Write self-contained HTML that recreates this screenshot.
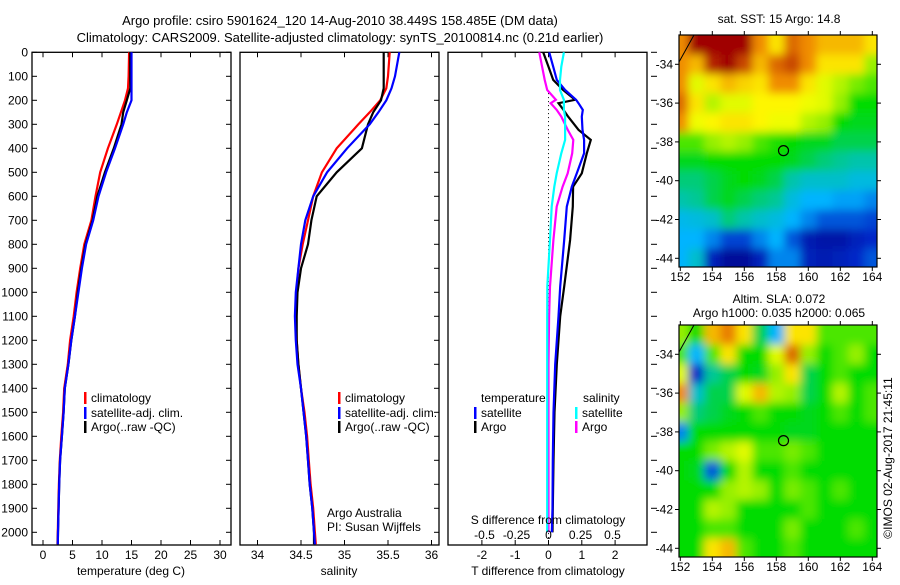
<!DOCTYPE html>
<html><head><meta charset="utf-8"><style>
body{margin:0;background:#fff;}
svg text{font-family:"Liberation Sans",sans-serif;font-size:12px;fill:#000;}
</style></head><body>
<svg id="fig" width="900" height="580" viewBox="0 0 900 580">
<defs>
<filter id="blur" x="0" y="0" width="1" height="1"><feGaussianBlur stdDeviation="4.5"/></filter>
<clipPath id="c1"><rect x="679" y="35" width="198" height="232"/></clipPath>
<clipPath id="c2"><rect x="679" y="325" width="198" height="232"/></clipPath>
</defs>
<text x="340" y="25" text-anchor="middle" style="font-size:13px">Argo profile: csiro 5901624_120 14-Aug-2010 38.449S 158.485E (DM data)</text>
<text x="340" y="42" text-anchor="middle" style="font-size:13px">Climatology: CARS2009. Satellite-adjusted climatology: synTS_20100814.nc (0.21d earlier)</text>
<g id="plots"></g>
</svg>
<script>
const depthTicks=[0,100,200,300,400,500,600,700,800,900,1000,1100,1200,1300,1400,1500,1600,1700,1800,1900,2000];
const tempTicks=[0,5,10,15,20,25,30];
const salTicks=[34,34.5,35,35.5,36];
const salTickLabels=["34","34.5","35","35.5","36"];
const tdiffTicks=[-2,-1,0,1,2];
const sdiffTicks=[-0.5,-0.25,0,0.25,0.5];
const sdiffTickLabels=["-0.5","-0.25","0","0.25","0.5"];
const latTicks=[-34,-36,-38,-40,-42,-44];
const lonTicks=[152,154,156,158,160,162,164];

const profDepths=[0,100,150,200,250,300,400,500,600,700,800,900,1000,1100,1200,1300,1400,1500,1600,1700,1800,1900,2000,2050];
const tempClim=[14.6,14.5,14.4,13.9,13.2,12.5,11.0,9.7,8.9,8.2,7.0,6.3,5.7,5.2,4.6,4.2,3.6,3.4,3.1,2.85,2.7,2.6,2.5,2.45];
const tempSat=[15.0,15.0,15.0,15.0,14.2,13.6,12.2,10.7,9.4,8.5,7.3,6.6,6.0,5.4,4.8,4.3,3.7,3.5,3.2,2.9,2.75,2.65,2.55,2.5];
const tempArgo=[14.8,14.8,14.8,14.2,13.6,13.3,12.0,10.5,9.2,8.4,7.2,6.5,5.9,5.4,4.8,4.3,3.7,3.5,3.2,2.9,2.75,2.65,2.55,2.5];
const salClim=[35.52,35.50,35.48,35.41,35.29,35.16,34.91,34.74,34.64,34.58,34.52,34.47,34.45,34.44,34.45,34.47,34.50,34.54,34.57,34.59,34.61,34.64,34.66,34.67];
const salSat=[35.63,35.58,35.54,35.48,35.39,35.29,35.03,34.80,34.64,34.55,34.50,34.47,34.44,34.43,34.44,34.46,34.50,34.53,34.56,34.58,34.60,34.63,34.65,34.66];
const salArgo=[35.45,35.45,35.45,35.42,35.33,35.27,35.20,34.91,34.68,34.62,34.58,34.50,34.46,34.45,34.45,34.47,34.50,34.53,34.56,34.58,34.60,34.63,34.65,34.65];

const diffDepths=[0,60,115,157,198,212,240,268,323,365,421,504,560,643,782,976,1100,1300,1500,1700,1900,2000];
const dTSat=[0.02,0.14,0.25,0.5,0.83,0.9,1.03,1.0,1.02,1.07,1.07,0.85,0.7,0.55,0.47,0.35,0.3,0.2,0.15,0.13,0.12,0.1];
const dTArgo=[-0.16,0,0.14,0.44,0.8,0.3,0.45,0.59,0.9,1.27,1.15,1.0,0.74,0.73,0.65,0.47,0.35,0.25,0.18,0.15,0.13,0.12];
const dSSat=[0.12,0.1,0.09,0.09,0.12,0.12,0.12,0.13,0.13,0.13,0.1,0.064,0.045,0.025,0.012,-0.009,-0.01,-0.01,-0.01,-0.01,-0.01,-0.01];
const dSArgo=[-0.072,-0.05,-0.03,-0.01,0.058,0.017,0.064,0.1,0.15,0.194,0.185,0.15,0.11,0.064,0.038,0.012,0.005,0,0,0,0,0];

const mapLons=[152,153,154,155,156,157,158,159,160,161,162,163,164];
const mapLats=[-33,-34,-35,-36,-37,-38,-39,-40,-41,-42,-43,-44];
const sstGrid=[
[0.8,1,1,1,1,0.8,0.7,0.85,0.8,0.75,0.75,0.75,0.7],
[0.8,0.75,0.95,1,0.9,0.75,0.85,0.9,0.8,0.7,0.7,0.7,0.6],
[0.8,0.65,0.7,0.75,0.72,0.7,0.8,0.8,0.7,0.65,0.62,0.58,0.55],
[0.85,0.7,0.62,0.65,0.65,0.68,0.68,0.68,0.66,0.65,0.6,0.5,0.5],
[0.8,0.66,0.68,0.7,0.7,0.68,0.66,0.66,0.62,0.6,0.5,0.48,0.48],
[0.55,0.55,0.6,0.62,0.6,0.55,0.52,0.5,0.48,0.48,0.45,0.45,0.45],
[0.48,0.48,0.5,0.5,0.5,0.5,0.5,0.48,0.45,0.42,0.4,0.38,0.38],
[0.42,0.42,0.45,0.48,0.5,0.48,0.45,0.38,0.35,0.35,0.35,0.33,0.33],
[0.38,0.4,0.45,0.48,0.45,0.42,0.4,0.33,0.3,0.3,0.28,0.28,0.25],
[0.32,0.33,0.35,0.42,0.38,0.35,0.33,0.3,0.25,0.2,0.2,0.2,0.18],
[0.3,0.3,0.25,0.18,0.18,0.25,0.3,0.2,0.1,0.08,0.08,0.12,0.15],
[0.3,0.35,0.12,0.05,0.05,0.12,0.25,0.25,0.12,0.1,0.12,0.15,0.2]];
const slaGrid=[
[0.6,0.5,0.75,0.82,0.7,0.45,0.3,0.7,0.7,0.55,0.55,0.55,0.55],
[0.55,0.3,0.55,0.7,0.5,0.5,0.65,0.85,0.6,0.5,0.55,0.6,0.5],
[0.65,0.15,0.4,0.45,0.5,0.48,0.6,0.7,0.45,0.5,0.55,0.5,0.5],
[0.8,0.35,0.45,0.45,0.65,0.75,0.62,0.6,0.45,0.5,0.62,0.5,0.55],
[0.6,0.42,0.45,0.48,0.5,0.55,0.5,0.5,0.48,0.5,0.55,0.5,0.55],
[0.25,0.5,0.5,0.5,0.5,0.5,0.5,0.48,0.48,0.5,0.5,0.5,0.5],
[0.5,0.5,0.58,0.62,0.65,0.55,0.55,0.58,0.55,0.5,0.5,0.5,0.5],
[0.5,0.48,0.2,0.5,0.62,0.5,0.5,0.55,0.5,0.5,0.5,0.5,0.5],
[0.5,0.5,0.5,0.6,0.62,0.6,0.5,0.58,0.55,0.5,0.55,0.5,0.5],
[0.5,0.5,0.62,0.6,0.5,0.5,0.5,0.5,0.55,0.5,0.5,0.5,0.5],
[0.5,0.5,0.55,0.55,0.5,0.5,0.5,0.58,0.5,0.5,0.5,0.55,0.5],
[0.5,0.5,0.7,0.75,0.55,0.5,0.5,0.55,0.5,0.5,0.5,0.5,0.5]];
const argoLon=158.45, argoLat=-38.45;

const NS='http://www.w3.org/2000/svg';
const root=document.getElementById('plots');
function el(tag,attrs,parent){const e=document.createElementNS(NS,tag);for(const k in attrs)e.setAttribute(k,attrs[k]);(parent||root).appendChild(e);return e;}
function txt(x,y,s,anchor,parent){const t=el('text',{x:x,y:y,'text-anchor':anchor||'start'},parent);t.textContent=s;return t;}

const PT=52.3, PB=545;
function yD(d){return PT+d*0.24;}
function lin(d0,d1,r0,r1){return v=>r0+(v-d0)/(d1-d0)*(r1-r0);}

const panels=[
 {name:'temperature-panel',x0:32,x1:231,sx:lin(0,30,43,220)},
 {name:'salinity-panel',x0:240,x1:439,sx:lin(34,36,257.5,431.5)},
 {name:'difference-panel',x0:448,x1:647,sx:lin(0,2,548.5,615.1)}
];
panels.forEach((p,i)=>{
 const g=el('g',{});
 
 
 p.g=g;
 const fr=el('rect',{x:p.x0,y:PT,width:p.x1-p.x0,height:PB-PT,fill:'none',stroke:'#000','stroke-width':1.3},g);
 
 
 depthTicks.forEach(d=>{
  const y=yD(d);
  if(i===0) el('line',{x1:p.x0,x2:p.x0+5,y1:y,y2:y,stroke:'#000'},g);
  if(i<2) el('line',{x1:p.x1-5,x2:p.x1,y1:y,y2:y,stroke:'#000'},g);
  else el('line',{x1:p.x1+4,x2:p.x1+10,y1:y,y2:y,stroke:'#000'},g);
 });
});
depthTicks.forEach(d=>{const t=txt(28,yD(d)+4,String(d),'end');
 
 });
function xticks(p,ticks,sx,labels){
 ticks.forEach((v,k)=>{const x=sx(v);
  el('line',{x1:x,x2:x,y1:PT,y2:PT+5,stroke:'#000'},p.g);
  el('line',{x1:x,x2:x,y1:PB-5,y2:PB,stroke:'#000'},p.g);
  const t=txt(x,559,labels?labels[k]:String(v),'middle',p.g);
  
  
 });
}
xticks(panels[0],tempTicks,panels[0].sx);
xticks(panels[1],salTicks,panels[1].sx,salTickLabels);
xticks(panels[2],tdiffTicks,panels[2].sx);
const xl=[['temperature (deg C)',131,'x-axis-title-temperature'],['salinity',339,'x-axis-title-salinity'],['T difference from climatology',548,'x-axis-title-tdiff']];
xl.forEach(a=>{const t=txt(a[1],575,a[0],'middle');
 
 });

function line(g,depths,vals,sx,color,name,w){
 const pts=depths.map((d,k)=>sx(vals[k]).toFixed(1)+','+yD(d).toFixed(1)).join(' ');
 const pl=el('polyline',{points:pts,fill:'none',stroke:color,'stroke-width':w||2.2,'stroke-linejoin':'miter'},g);
 
 
}
const P0=panels[0],P1=panels[1],P2=panels[2];
line(P0.g,profDepths,tempClim,P0.sx,'#f00','temp-climatology-line');
line(P0.g,profDepths,tempArgo,P0.sx,'#000','temp-argo-line');
line(P0.g,profDepths,tempSat,P0.sx,'#00f','temp-satellite-line');
line(P1.g,profDepths,salClim,P1.sx,'#f00','sal-climatology-line');
line(P1.g,profDepths,salArgo,P1.sx,'#000','sal-argo-line');
line(P1.g,profDepths,salSat,P1.sx,'#00f','sal-satellite-line');
const sxS=lin(0,0.5,548.5,612.5);
const dz=el('line',{x1:P2.sx(0),x2:P2.sx(0),y1:yD(170),y2:PB,stroke:'#000','stroke-dasharray':'1,3'},P2.g);


line(P2.g,diffDepths,dTArgo,P2.sx,'#000','tdiff-argo-line');
line(P2.g,diffDepths,dTSat,P2.sx,'#00f','tdiff-satellite-line');
line(P2.g,diffDepths,dSArgo,sxS,'#f0f','sdiff-argo-line');
line(P2.g,diffDepths,dSSat,sxS,'#0ff','sdiff-satellite-line');
sdiffTicks.forEach((v,k)=>{const t=txt(sxS(v),539,sdiffTickLabels[k],'middle',P2.g);
 
 });
{const t=txt(548,524,'S difference from climatology','middle',P2.g);
 
 }

function legend(g,x,y,color,label){
 const m=el('rect',{x:x,y:y-10,width:2.5,height:12,fill:color},g);
 
 
 const t=txt(x+7,y,label,'start',g);
 
 
}
[[P0.g,84],[P1.g,338]].forEach(a=>{
 legend(a[0],a[1],402,'#f00','climatology');
 legend(a[0],a[1],417,'#00f','satellite-adj. clim.');
 legend(a[0],a[1],431,'#000','Argo(..raw -QC)');
});
{const t=txt(481,402,'temperature','start',P2.g);
 const t2=txt(583,402,'salinity','start',P2.g);}
legend(P2.g,474,417,'#00f','satellite');
legend(P2.g,474,431,'#000','Argo');
legend(P2.g,575,417,'#0ff','satellite');
legend(P2.g,575,431,'#f0f','Argo');
{const t=txt(327,517,'Argo Australia','start',P1.g);
 const t2=txt(327,531,'PI: Susan Wijffels','start',P1.g);}

const cmapStops=[[0,[0,0,130]],[0.15,[0,40,200]],[0.3,[0,180,255]],[0.4,[0,200,150]],[0.5,[0,220,0]],[0.6,[150,240,0]],[0.67,[255,255,0]],[0.8,[240,140,0]],[1,[160,0,0]]];
function cmap(v){v=Math.max(0,Math.min(1,v));
 for(let i=1;i<cmapStops.length;i++){const a=cmapStops[i-1],b=cmapStops[i];
  if(v<=b[0]){const f=(v-a[0])/(b[0]-a[0]);
   return 'rgb('+a[1].map((c,k)=>Math.round(c+(b[1][k]-c)*f)).join(',')+')';}}
 return 'rgb(160,0,0)';}
function drawMap(top,grid,clip,name){
 const L=679,R=877,B=top+232;
 const lx=lin(152,164,680.3,872.3), ly=lin(-34,-44,top+29.3,top+223.3);
 const g=el('g',{});
 
 
 const cg=el('g',{'clip-path':'url(#'+clip+')'},g);
 const hg=el('g',{filter:'url(#blur)'},cg);
 el('rect',{x:L-20,y:top-20,width:240,height:272,fill:cmap(0.5)},hg);
 mapLats.forEach((lat,r)=>mapLons.forEach((lon,c)=>{
  const x0=lx(lon-0.5),x1=lx(lon+0.5),y0=ly(lat+0.5),y1=ly(lat-0.5);
  const ex=(c===0?-20:0), ex2=(c===mapLons.length-1?20:0), ey=(r===0?-20:0), ey2=(r===mapLats.length-1?20:0);
  const cell=el('rect',{x:x0+ex,y:y0+ey,width:x1-x0-ex+ex2+0.5,height:y1-y0-ey+ey2+0.5,fill:cmap(grid[r][c])},hg);
  
  
 }));
 el('line',{x1:L,y1:top+27,x2:L+15,y2:top,stroke:'#000','stroke-width':1},cg);
 const ci=el('circle',{cx:lx(argoLon),cy:ly(argoLat),r:5,fill:'none',stroke:'#000','stroke-width':1.2},g);
 
 
 el('rect',{x:L,y:top,width:R-L,height:B-top,fill:'none',stroke:'#000','stroke-width':1.2},g);
 latTicks.forEach(v=>{const y=ly(v);
  el('line',{x1:L-4,x2:L,y1:y,y2:y,stroke:'#000'},g);
  el('line',{x1:R,x2:R+4,y1:y,y2:y,stroke:'#000'},g);
  const t=txt(673,y+4,String(v),'end',g);
  
  });
 lonTicks.forEach(v=>{const x=lx(v);
  el('line',{x1:x,x2:x,y1:top-4,y2:top,stroke:'#000'},g);
  el('line',{x1:x,x2:x,y1:B,y2:B+4,stroke:'#000'},g);
  const t=txt(x,B+14,String(v),'middle',g);
  
  });
}
drawMap(35,sstGrid,'c1','sst-map');
drawMap(325,slaGrid,'c2','sla-map');
[['sat. SST: 15 Argo: 14.8',23,'sst-map-title'],['Altim. SLA: 0.072',303,'sla-map-title'],['Argo h1000: 0.035 h2000: 0.065',317,'sla-map-subtitle']].forEach(a=>{
 const t=txt(779,a[1],a[0],'middle');
 
 });
{const t=txt(0,0,'©IMOS 02-Aug-2017 21:45:11','middle');
 t.setAttribute('transform','translate(892,458) rotate(-90)');
 
 }
</script>
</body></html>
